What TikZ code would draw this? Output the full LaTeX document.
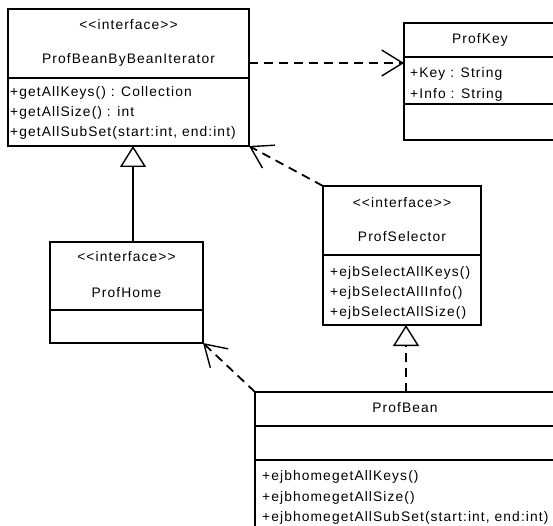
\documentclass[tikz,border=0pt]{standalone}
\usepackage{fontspec}
\newfontfamily\umlfont{Liberation Sans}[LetterSpace=8]
\usetikzlibrary{arrows.meta}
\begin{document}
\begin{tikzpicture}[x=1pt,y=-1pt,
  box/.style={draw, line width=1.6pt, anchor=north west, inner sep=0pt, outer sep=0pt},
  divider/.style={line width=1.2pt},
  txt/.style={font=\umlfont\fontsize{13.8}{16}\selectfont, inner sep=0pt},
  optxt/.style={txt, anchor=west},
  dep/.style={line width=1.8pt, dash pattern=on 9pt off 6pt,
    -{Straight Barb[length=21pt,width=26pt,line width=1.4pt]}},
  gen/.style={line width=1.8pt, -{Triangle[length=21pt,width=26pt,fill=white,line width=1.4pt]}},
  real/.style={gen, dash pattern=on 9pt off 6pt}
]
\useasboundingbox (0,0) rectangle (553,526);
\fill[white] (0,0) rectangle (553,526);
\clip (0,0) rectangle (553,526);

% ProfBeanByBeanIterator
\node[box, minimum width=241pt, minimum height=137pt] (iter) at (8,9) {};
\draw[divider] (iter.west |- 0,78) -- (iter.east |- 0,78);
\node[txt] (iterst) at (128.5,25) {<{}<interface>{}>};
\node[txt] (itername) at (128.5,60) {ProfBeanByBeanIterator};
\node[optxt] (iterop1) at (10,93) {+getAllKeys() : Collection};
\node[optxt] (iterop2) at (10,113) {+getAllSize() : int};
\node[optxt] (iterop3) at (10,133) {+getAllSubSet(start:int, end:int)};

% ProfKey
\node[box, minimum width=152pt, minimum height=117pt] (key) at (404,23) {};
\draw[divider] (key.west |- 0,57) -- (key.east |- 0,57);
\draw[divider] (key.west |- 0,104) -- (key.east |- 0,104);
\node[txt] (keyname) at (480,40) {ProfKey};
\node[optxt] (keyat1) at (410,74) {+Key : String};
\node[optxt] (keyat2) at (410,95) {+Info : String};

% ProfHome
\node[box, minimum width=153pt, minimum height=101pt] (home) at (50,242) {};
\draw[divider] (home.west |- 0,310) -- (home.east |- 0,310);
\node[txt] (homest) at (126.5,257) {<{}<interface>{}>};
\node[txt] (homename) at (126.5,293) {ProfHome};

% ProfSelector
\node[box, minimum width=158pt, minimum height=139pt] (sel) at (323,186) {};
\draw[divider] (sel.west |- 0,255) -- (sel.east |- 0,255);
\node[txt] (selst) at (402,203) {<{}<interface>{}>};
\node[txt] (selname) at (402,237) {ProfSelector};
\node[optxt] (selop1) at (330,273) {+ejbSelectAllKeys()};
\node[optxt] (selop2) at (330,293) {+ejbSelectAllInfo()};
\node[optxt] (selop3) at (330,313) {+ejbSelectAllSize()};

% ProfBean
\node[box, minimum width=300pt, minimum height=150pt] (bean) at (255,392) {};
\draw[divider] (bean.west |- 0,426) -- (bean.east |- 0,426);
\draw[divider] (bean.west |- 0,460) -- (bean.east |- 0,460);
\node[txt] (beanname) at (405,408) {ProfBean};
\node[optxt] (beanop1) at (262,477) {+ejbhomegetAllKeys()};
\node[optxt] (beanop2) at (262,498) {+ejbhomegetAllSize()};
\node[optxt] (beanop3) at (262,518) {+ejbhomegetAllSubSet(start:int, end:int)};

% connectors
\draw[dep] (iter.east |- 0,63) -- (key.west |- 0,63);
\draw[dep] (sel.north west) -- (iter.south east);
\draw[dep] (bean.north west) -- (home.south east);
\draw[gen] (home.north -| 133,0) -- (iter.south -| 133,0);
\draw[real] (bean.north -| 406,0) -- (sel.south -| 406,0);
\end{tikzpicture}
\end{document}
